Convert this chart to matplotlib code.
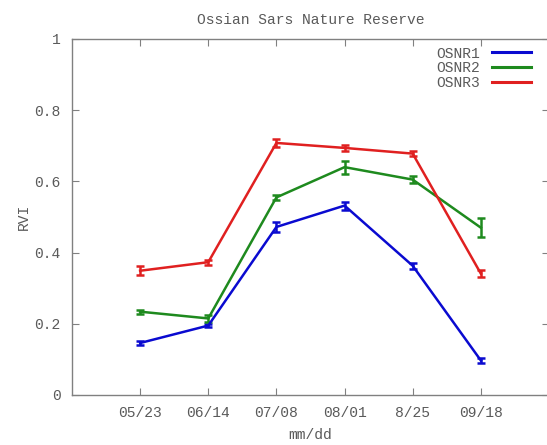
import matplotlib
matplotlib.use('Agg')
import matplotlib.pyplot as plt
from matplotlib.lines import Line2D

plt.rcParams['font.family'] = ['Liberation Mono', 'DejaVu Sans Mono']

dates = ['05/23', '06/14', '07/08', '08/01', '8/25', '09/18']

osnr1 = [0.146, 0.195, 0.472, 0.532, 0.363, 0.097]
osnr1_err = [0.007, 0.005, 0.013, 0.011, 0.008, 0.006]
osnr2 = [0.234, 0.215, 0.555, 0.640, 0.605, 0.470]
osnr2_err = [0.006, 0.010, 0.008, 0.018, 0.010, 0.027]
osnr3 = [0.349, 0.373, 0.708, 0.694, 0.678, 0.341]
osnr3_err = [0.012, 0.007, 0.011, 0.009, 0.008, 0.010]

series = [('OSNR1', osnr1, osnr1_err, '#0a0ad0'),
          ('OSNR2', osnr2, osnr2_err, '#1e8a1e'),
          ('OSNR3', osnr3, osnr3_err, '#e02020')]

txt = '#5a5a5a'
fig = plt.figure(figsize=(5.47, 4.45), dpi=100)
ax = fig.add_axes([0.1316, 0.1124, 0.872, 0.80])

x = list(range(1, len(dates) + 1))
handles = []
for name, vals, err, col in series:
    ax.errorbar(x, vals, yerr=err, color=col, lw=1.8, elinewidth=1.8,
                capsize=3, capthick=1.8)
    handles.append(Line2D([], [], color=col, lw=2.2, label=name))

ax.set_xlim(0, 7)
ax.set_ylim(0, 1)
ax.set_xticks(x)
ax.set_xticklabels(dates)
ax.set_yticks([0, 0.2, 0.4, 0.6, 0.8, 1.0])
ax.set_yticklabels(['0', '0.2', '0.4', '0.6', '0.8', '1'])
ax.tick_params(direction='in', top=True, right=True, length=5, width=0.8,
               color='#808080', labelcolor=txt, labelsize=10.5, pad=8)
for s in ax.spines.values():
    s.set_color('#808080')
    s.set_linewidth(1.0)

ax.set_title('Ossian Sars Nature Reserve', fontsize=10.5, color=txt, pad=11)
ax.set_xlabel('mm/dd', fontsize=10.5, color=txt, labelpad=6)
ax.set_ylabel('RVI', fontsize=10.5, color=txt, labelpad=3)

# legend: label first, line sample to the right (gnuplot style)
leg = ax.legend(handles=handles, loc='upper right', frameon=False,
                markerfirst=False, fontsize=10.5, handlelength=2.7,
                handletextpad=0.8, labelspacing=0.05, borderaxespad=0.0,
                bbox_to_anchor=(0.975, 0.995))
for t in leg.get_texts():
    t.set_color(txt)

fig.savefig('out.png', dpi=100)
